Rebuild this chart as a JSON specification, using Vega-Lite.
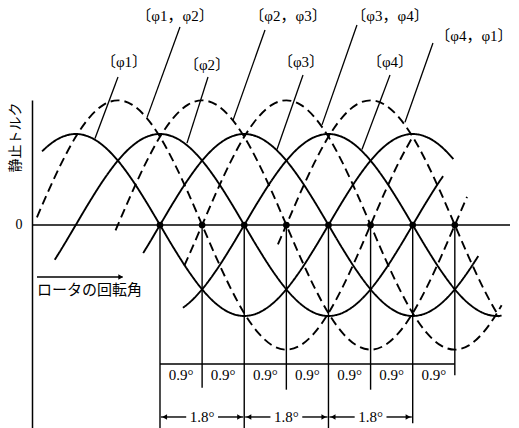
{
  "$schema": "https://vega.github.io/schema/vega-lite/v6.json",
  "autosize": "none",
  "width": 478,
  "height": 328,
  "padding": {"left": 32, "top": 100, "right": 9, "bottom": 0},
  "background": "white",
  "config": {"view": {"stroke": null}},
  "datasets": {
    "curves": [
      {"c": "p1", "k": "s", "t": -2.52, "v": 0.809}, {"c": "p1", "k": "s", "t": -2.4, "v": 0.866}, {"c": "p1", "k": "s", "t": -2.1, "v": 0.966}, {"c": "p1", "k": "s", "t": -1.8, "v": 1},
      {"c": "p1", "k": "s", "t": -1.5, "v": 0.966}, {"c": "p1", "k": "s", "t": -1.2, "v": 0.866}, {"c": "p1", "k": "s", "t": -0.9, "v": 0.707}, {"c": "p1", "k": "s", "t": -0.6, "v": 0.5},
      {"c": "p1", "k": "s", "t": -0.3, "v": 0.259}, {"c": "p1", "k": "s", "t": 0, "v": 0}, {"c": "p1", "k": "s", "t": 0.3, "v": -0.259}, {"c": "p1", "k": "s", "t": 0.6, "v": -0.5},
      {"c": "p1", "k": "s", "t": 0.9, "v": -0.707}, {"c": "p1", "k": "s", "t": 1.2, "v": -0.866}, {"c": "p1", "k": "s", "t": 1.5, "v": -0.966}, {"c": "p1", "k": "s", "t": 1.8, "v": -1},
      {"c": "p1", "k": "s", "t": 2.1, "v": -0.966}, {"c": "p1", "k": "s", "t": 2.4, "v": -0.866}, {"c": "p1", "k": "s", "t": 2.7, "v": -0.707}, {"c": "p1", "k": "s", "t": 3.0, "v": -0.5},
      {"c": "p1", "k": "s", "t": 3.3, "v": -0.259}, {"c": "p1", "k": "s", "t": 3.6, "v": 0}, {"c": "p1", "k": "s", "t": 3.9, "v": 0.259}, {"c": "p1", "k": "s", "t": 4.2, "v": 0.5},
      {"c": "p1", "k": "s", "t": 4.5, "v": 0.707}, {"c": "p1", "k": "s", "t": 4.8, "v": 0.866}, {"c": "p1", "k": "s", "t": 5.1, "v": 0.966}, {"c": "p1", "k": "s", "t": 5.4, "v": 1},
      {"c": "p1", "k": "s", "t": 5.7, "v": 0.966}, {"c": "p1", "k": "s", "t": 6.0, "v": 0.866}, {"c": "p1", "k": "s", "t": 6.27, "v": 0.725},

      {"c": "p2", "k": "s", "t": -2.25, "v": -0.383}, {"c": "p2", "k": "s", "t": -2.1, "v": -0.259}, {"c": "p2", "k": "s", "t": -1.8, "v": 0}, {"c": "p2", "k": "s", "t": -1.5, "v": 0.259},
      {"c": "p2", "k": "s", "t": -1.2, "v": 0.5}, {"c": "p2", "k": "s", "t": -0.9, "v": 0.707}, {"c": "p2", "k": "s", "t": -0.6, "v": 0.866}, {"c": "p2", "k": "s", "t": -0.3, "v": 0.966},
      {"c": "p2", "k": "s", "t": 0, "v": 1}, {"c": "p2", "k": "s", "t": 0.3, "v": 0.966}, {"c": "p2", "k": "s", "t": 0.6, "v": 0.866}, {"c": "p2", "k": "s", "t": 0.9, "v": 0.707},
      {"c": "p2", "k": "s", "t": 1.2, "v": 0.5}, {"c": "p2", "k": "s", "t": 1.5, "v": 0.259}, {"c": "p2", "k": "s", "t": 1.8, "v": 0}, {"c": "p2", "k": "s", "t": 2.1, "v": -0.259},
      {"c": "p2", "k": "s", "t": 2.4, "v": -0.5}, {"c": "p2", "k": "s", "t": 2.7, "v": -0.707}, {"c": "p2", "k": "s", "t": 3.0, "v": -0.866}, {"c": "p2", "k": "s", "t": 3.3, "v": -0.966},
      {"c": "p2", "k": "s", "t": 3.6, "v": -1}, {"c": "p2", "k": "s", "t": 3.9, "v": -0.966}, {"c": "p2", "k": "s", "t": 4.2, "v": -0.866}, {"c": "p2", "k": "s", "t": 4.5, "v": -0.707},
      {"c": "p2", "k": "s", "t": 4.8, "v": -0.5}, {"c": "p2", "k": "s", "t": 5.1, "v": -0.259}, {"c": "p2", "k": "s", "t": 5.4, "v": 0}, {"c": "p2", "k": "s", "t": 5.7, "v": 0.259},
      {"c": "p2", "k": "s", "t": 6.0, "v": 0.5}, {"c": "p2", "k": "s", "t": 6.05, "v": 0.537},

      {"c": "p3", "k": "s", "t": -0.36, "v": -0.309}, {"c": "p3", "k": "s", "t": -0.3, "v": -0.259}, {"c": "p3", "k": "s", "t": 0, "v": 0}, {"c": "p3", "k": "s", "t": 0.3, "v": 0.259},
      {"c": "p3", "k": "s", "t": 0.6, "v": 0.5}, {"c": "p3", "k": "s", "t": 0.9, "v": 0.707}, {"c": "p3", "k": "s", "t": 1.2, "v": 0.866}, {"c": "p3", "k": "s", "t": 1.5, "v": 0.966},
      {"c": "p3", "k": "s", "t": 1.8, "v": 1}, {"c": "p3", "k": "s", "t": 2.1, "v": 0.966}, {"c": "p3", "k": "s", "t": 2.4, "v": 0.866}, {"c": "p3", "k": "s", "t": 2.7, "v": 0.707},
      {"c": "p3", "k": "s", "t": 3.0, "v": 0.5}, {"c": "p3", "k": "s", "t": 3.3, "v": 0.259}, {"c": "p3", "k": "s", "t": 3.6, "v": 0}, {"c": "p3", "k": "s", "t": 3.9, "v": -0.259},
      {"c": "p3", "k": "s", "t": 4.2, "v": -0.5}, {"c": "p3", "k": "s", "t": 4.5, "v": -0.707}, {"c": "p3", "k": "s", "t": 4.8, "v": -0.866}, {"c": "p3", "k": "s", "t": 5.1, "v": -0.966},
      {"c": "p3", "k": "s", "t": 5.4, "v": -1}, {"c": "p3", "k": "s", "t": 5.7, "v": -0.966}, {"c": "p3", "k": "s", "t": 6.0, "v": -0.866}, {"c": "p3", "k": "s", "t": 6.3, "v": -0.707},
      {"c": "p3", "k": "s", "t": 6.6, "v": -0.5}, {"c": "p3", "k": "s", "t": 6.8, "v": -0.342},

      {"c": "p4", "k": "s", "t": 0.49, "v": -0.91}, {"c": "p4", "k": "s", "t": 0.6, "v": -0.866}, {"c": "p4", "k": "s", "t": 0.9, "v": -0.707}, {"c": "p4", "k": "s", "t": 1.2, "v": -0.5},
      {"c": "p4", "k": "s", "t": 1.5, "v": -0.259}, {"c": "p4", "k": "s", "t": 1.8, "v": 0}, {"c": "p4", "k": "s", "t": 2.1, "v": 0.259}, {"c": "p4", "k": "s", "t": 2.4, "v": 0.5},
      {"c": "p4", "k": "s", "t": 2.7, "v": 0.707}, {"c": "p4", "k": "s", "t": 3.0, "v": 0.866}, {"c": "p4", "k": "s", "t": 3.3, "v": 0.966}, {"c": "p4", "k": "s", "t": 3.6, "v": 1},
      {"c": "p4", "k": "s", "t": 3.9, "v": 0.966}, {"c": "p4", "k": "s", "t": 4.2, "v": 0.866}, {"c": "p4", "k": "s", "t": 4.5, "v": 0.707}, {"c": "p4", "k": "s", "t": 4.8, "v": 0.5},
      {"c": "p4", "k": "s", "t": 5.1, "v": 0.259}, {"c": "p4", "k": "s", "t": 5.4, "v": 0}, {"c": "p4", "k": "s", "t": 5.7, "v": -0.259}, {"c": "p4", "k": "s", "t": 6.0, "v": -0.5},
      {"c": "p4", "k": "s", "t": 6.3, "v": -0.707}, {"c": "p4", "k": "s", "t": 6.6, "v": -0.866}, {"c": "p4", "k": "s", "t": 6.9, "v": -0.966}, {"c": "p4", "k": "s", "t": 7.2, "v": -1},
      {"c": "p4", "k": "s", "t": 7.3, "v": -0.996},

      {"c": "d12", "k": "d", "t": -2.63, "v": 0.084}, {"c": "d12", "k": "d", "t": -2.4, "v": 0.355}, {"c": "d12", "k": "d", "t": -2.1, "v": 0.685}, {"c": "d12", "k": "d", "t": -1.8, "v": 0.969},
      {"c": "d12", "k": "d", "t": -1.5, "v": 1.186}, {"c": "d12", "k": "d", "t": -1.2, "v": 1.323}, {"c": "d12", "k": "d", "t": -0.9, "v": 1.37}, {"c": "d12", "k": "d", "t": -0.6, "v": 1.323},
      {"c": "d12", "k": "d", "t": -0.3, "v": 1.186}, {"c": "d12", "k": "d", "t": 0, "v": 0.969}, {"c": "d12", "k": "d", "t": 0.3, "v": 0.685}, {"c": "d12", "k": "d", "t": 0.6, "v": 0.355},
      {"c": "d12", "k": "d", "t": 0.9, "v": 0}, {"c": "d12", "k": "d", "t": 1.2, "v": -0.355}, {"c": "d12", "k": "d", "t": 1.5, "v": -0.685}, {"c": "d12", "k": "d", "t": 1.8, "v": -0.969},
      {"c": "d12", "k": "d", "t": 2.1, "v": -1.186}, {"c": "d12", "k": "d", "t": 2.4, "v": -1.323}, {"c": "d12", "k": "d", "t": 2.7, "v": -1.37}, {"c": "d12", "k": "d", "t": 3.0, "v": -1.323},
      {"c": "d12", "k": "d", "t": 3.3, "v": -1.186}, {"c": "d12", "k": "d", "t": 3.6, "v": -0.969}, {"c": "d12", "k": "d", "t": 3.9, "v": -0.685}, {"c": "d12", "k": "d", "t": 4.2, "v": -0.355},
      {"c": "d12", "k": "d", "t": 4.5, "v": 0}, {"c": "d12", "k": "d", "t": 4.8, "v": 0.355}, {"c": "d12", "k": "d", "t": 5.1, "v": 0.685}, {"c": "d12", "k": "d", "t": 5.4, "v": 0.969},

      {"c": "d23", "k": "d", "t": -0.95, "v": -0.06}, {"c": "d23", "k": "d", "t": -0.9, "v": 0}, {"c": "d23", "k": "d", "t": -0.6, "v": 0.355}, {"c": "d23", "k": "d", "t": -0.3, "v": 0.685},
      {"c": "d23", "k": "d", "t": 0, "v": 0.969}, {"c": "d23", "k": "d", "t": 0.3, "v": 1.186}, {"c": "d23", "k": "d", "t": 0.6, "v": 1.323}, {"c": "d23", "k": "d", "t": 0.9, "v": 1.37},
      {"c": "d23", "k": "d", "t": 1.2, "v": 1.323}, {"c": "d23", "k": "d", "t": 1.5, "v": 1.186}, {"c": "d23", "k": "d", "t": 1.8, "v": 0.969}, {"c": "d23", "k": "d", "t": 2.1, "v": 0.685},
      {"c": "d23", "k": "d", "t": 2.4, "v": 0.355}, {"c": "d23", "k": "d", "t": 2.7, "v": 0}, {"c": "d23", "k": "d", "t": 3.0, "v": -0.355}, {"c": "d23", "k": "d", "t": 3.3, "v": -0.685},
      {"c": "d23", "k": "d", "t": 3.6, "v": -0.969}, {"c": "d23", "k": "d", "t": 3.9, "v": -1.186}, {"c": "d23", "k": "d", "t": 4.2, "v": -1.323}, {"c": "d23", "k": "d", "t": 4.5, "v": -1.37},
      {"c": "d23", "k": "d", "t": 4.8, "v": -1.323}, {"c": "d23", "k": "d", "t": 5.1, "v": -1.186}, {"c": "d23", "k": "d", "t": 5.4, "v": -0.969}, {"c": "d23", "k": "d", "t": 5.7, "v": -0.685},
      {"c": "d23", "k": "d", "t": 6.0, "v": -0.355}, {"c": "d23", "k": "d", "t": 6.3, "v": 0}, {"c": "d23", "k": "d", "t": 6.56, "v": 0.308},

      {"c": "d34", "k": "d", "t": 0.52, "v": -0.446}, {"c": "d34", "k": "d", "t": 0.6, "v": -0.355}, {"c": "d34", "k": "d", "t": 0.9, "v": 0}, {"c": "d34", "k": "d", "t": 1.2, "v": 0.355},
      {"c": "d34", "k": "d", "t": 1.5, "v": 0.685}, {"c": "d34", "k": "d", "t": 1.8, "v": 0.969}, {"c": "d34", "k": "d", "t": 2.1, "v": 1.186}, {"c": "d34", "k": "d", "t": 2.4, "v": 1.323},
      {"c": "d34", "k": "d", "t": 2.7, "v": 1.37}, {"c": "d34", "k": "d", "t": 3.0, "v": 1.323}, {"c": "d34", "k": "d", "t": 3.3, "v": 1.186}, {"c": "d34", "k": "d", "t": 3.6, "v": 0.969},
      {"c": "d34", "k": "d", "t": 3.9, "v": 0.685}, {"c": "d34", "k": "d", "t": 4.2, "v": 0.355}, {"c": "d34", "k": "d", "t": 4.5, "v": 0}, {"c": "d34", "k": "d", "t": 4.8, "v": -0.355},
      {"c": "d34", "k": "d", "t": 5.1, "v": -0.685}, {"c": "d34", "k": "d", "t": 5.4, "v": -0.969}, {"c": "d34", "k": "d", "t": 5.7, "v": -1.186}, {"c": "d34", "k": "d", "t": 6.0, "v": -1.323},
      {"c": "d34", "k": "d", "t": 6.3, "v": -1.37}, {"c": "d34", "k": "d", "t": 6.6, "v": -1.323}, {"c": "d34", "k": "d", "t": 6.9, "v": -1.186}, {"c": "d34", "k": "d", "t": 7.2, "v": -0.969},
      {"c": "d34", "k": "d", "t": 7.3, "v": -0.881},

      {"c": "d41", "k": "d", "t": 2.52, "v": -0.214}, {"c": "d41", "k": "d", "t": 2.7, "v": 0}, {"c": "d41", "k": "d", "t": 3.0, "v": 0.355}, {"c": "d41", "k": "d", "t": 3.3, "v": 0.685},
      {"c": "d41", "k": "d", "t": 3.6, "v": 0.969}, {"c": "d41", "k": "d", "t": 3.9, "v": 1.186}, {"c": "d41", "k": "d", "t": 4.2, "v": 1.323}, {"c": "d41", "k": "d", "t": 4.5, "v": 1.37},
      {"c": "d41", "k": "d", "t": 4.8, "v": 1.323}, {"c": "d41", "k": "d", "t": 5.1, "v": 1.186}, {"c": "d41", "k": "d", "t": 5.4, "v": 0.969}, {"c": "d41", "k": "d", "t": 5.7, "v": 0.685},
      {"c": "d41", "k": "d", "t": 6.0, "v": 0.355}, {"c": "d41", "k": "d", "t": 6.3, "v": 0}, {"c": "d41", "k": "d", "t": 6.6, "v": -0.355}, {"c": "d41", "k": "d", "t": 6.9, "v": -0.685},
      {"c": "d41", "k": "d", "t": 7.2, "v": -0.969}, {"c": "d41", "k": "d", "t": 7.25, "v": -1.01}
    ],
    "dots": [
      {"t": 0, "v": 0}, {"t": 0.9, "v": 0}, {"t": 1.8, "v": 0}, {"t": 2.7, "v": 0},
      {"t": 3.6, "v": 0}, {"t": 4.5, "v": 0}, {"t": 5.4, "v": 0}, {"t": 6.3, "v": 0}
    ],
    "vlines": [
      {"t": 0, "v": 0, "v2": -2.231}, {"t": 0.9, "v": 0, "v2": -1.79}, {"t": 1.8, "v": 0, "v2": -2.231}, {"t": 2.7, "v": 0, "v2": -1.81},
      {"t": 3.6, "v": 0, "v2": -2.231}, {"t": 4.5, "v": 0, "v2": -1.81}, {"t": 5.4, "v": 0, "v2": -2.18}, {"t": 6.3, "v": 0, "v2": -1.65}
    ],
    "hlines": [
      {"t": -2.735, "t2": 7.479, "v": 0},
      {"t": 0, "t2": 6.3, "v": -1.527},
      {"t": 0.02, "t2": 0.56, "v": -2.11}, {"t": 1.24, "t2": 1.78, "v": -2.11},
      {"t": 1.82, "t2": 2.36, "v": -2.11}, {"t": 3.04, "t2": 3.58, "v": -2.11},
      {"t": 3.62, "t2": 4.16, "v": -2.11}, {"t": 4.84, "t2": 5.38, "v": -2.11},
      {"t": -2.628, "t2": -0.8, "v": -0.571}
    ],
    "arrows": [
      {"t": 0.1, "v": -2.11, "s": "L"}, {"t": 1.7, "v": -2.11, "s": "R"},
      {"t": 1.9, "v": -2.11, "s": "L"}, {"t": 3.5, "v": -2.11, "s": "R"},
      {"t": 3.7, "v": -2.11, "s": "L"}, {"t": 5.3, "v": -2.11, "s": "R"},
      {"t": -0.84, "v": -0.571, "s": "R"}
    ],
    "pointers": [
      {"t": -0.897, "v": 1.626, "t2": -1.389, "v2": 0.95},
      {"t": 1.026, "v": 1.626, "t2": 0.577, "v2": 0.9},
      {"t": 0.427, "v": 2.176, "t2": -0.278, "v2": 1.18},
      {"t": 2.244, "v": 2.143, "t2": 1.56, "v2": 1.15},
      {"t": 4.209, "v": 2.198, "t2": 3.462, "v2": 1.1},
      {"t": 5.833, "v": 2.0, "t2": 5.235, "v2": 1.13},
      {"t": 3.056, "v": 1.648, "t2": 2.5, "v2": 0.83},
      {"t": 4.915, "v": 1.648, "t2": 4.316, "v2": 0.83}
    ],
    "phases": [
      {"t": -0.769, "v": 1.791, "label": "〔φ1〕"},
      {"t": 1.004, "v": 1.758, "label": "〔φ2〕"},
      {"t": 3.013, "v": 1.791, "label": "〔φ3〕"},
      {"t": 4.915, "v": 1.791, "label": "〔φ4〕"},
      {"t": 0.321, "v": 2.297, "label": "〔φ1，φ2〕"},
      {"t": 2.735, "v": 2.297, "label": "〔φ2，φ3〕"},
      {"t": 4.915, "v": 2.297, "label": "〔φ3，φ4〕"},
      {"t": 6.709, "v": 2.077, "label": "〔φ4，φ1〕"}
    ],
    "steps": [
      {"t": 0.45, "v": -1.648, "label": "0.9°"}, {"t": 1.35, "v": -1.648, "label": "0.9°"},
      {"t": 2.25, "v": -1.648, "label": "0.9°"}, {"t": 3.15, "v": -1.648, "label": "0.9°"},
      {"t": 4.05, "v": -1.648, "label": "0.9°"}, {"t": 4.95, "v": -1.648, "label": "0.9°"},
      {"t": 5.85, "v": -1.648, "label": "0.9°"},
      {"t": 0.9, "v": -2.11, "label": "1.8°"}, {"t": 2.7, "v": -2.11, "label": "1.8°"},
      {"t": 4.5, "v": -2.11, "label": "1.8°"}
    ],
    "notes": [
      {"t": -2.628, "v": -0.714, "label": "ロータの回転角"}
    ]
  },
  "encoding": {
    "x": {"field": "t", "type": "quantitative", "scale": {"domain": [-2.735, 7.479], "nice": false, "zero": false}, "axis": null},
    "y": {
      "field": "v", "type": "quantitative",
      "scale": {"domain": [-2.231, 1.3736], "nice": false, "zero": false},
      "axis": {
        "values": [0], "grid": false, "ticks": false, "tickSize": 0,
        "domain": true, "domainColor": "black", "domainWidth": 1.5,
        "labelPadding": 10, "labelFont": "Liberation Serif", "labelFontSize": 14, "labelColor": "black",
        "title": "静止トルク", "titleFont": "Noto Sans CJK JP", "titleFontSize": 14, "titleFontWeight": "normal",
        "titleColor": "black", "titleAngle": 270, "titleX": -17, "titleY": 37,
        "titleAlign": "center", "titleBaseline": "middle"
      }
    }
  },
  "layer": [
    {
      "data": {"name": "hlines"},
      "mark": {"type": "rule", "color": "black", "strokeWidth": 1.4},
      "encoding": {"x2": {"field": "t2"}}
    },
    {
      "data": {"name": "vlines"},
      "mark": {"type": "rule", "color": "black", "strokeWidth": 1.4},
      "encoding": {"y2": {"field": "v2"}}
    },
    {
      "data": {"name": "curves"},
      "mark": {"type": "line", "color": "black", "strokeWidth": 1.9, "interpolate": "monotone"},
      "encoding": {
        "detail": {"field": "c"},
        "strokeDash": {"field": "k", "type": "nominal", "scale": {"domain": ["s", "d"], "range": [[1, 0], [9, 5]]}, "legend": null}
      }
    },
    {
      "data": {"name": "pointers"},
      "mark": {"type": "rule", "color": "black", "strokeWidth": 1.3},
      "encoding": {"x2": {"field": "t2"}, "y2": {"field": "v2"}}
    },
    {
      "data": {"name": "dots"},
      "mark": {"type": "circle", "color": "black", "size": 45, "opacity": 1}
    },
    {
      "data": {"name": "arrows"},
      "mark": {"type": "point", "filled": true, "color": "black", "size": 30, "opacity": 1},
      "encoding": {
        "shape": {"field": "s", "type": "nominal", "scale": {"domain": ["L", "R"], "range": ["triangle-left", "triangle-right"]}, "legend": null}
      }
    },
    {
      "data": {"name": "phases"},
      "mark": {"type": "text", "font": "Liberation Serif, Noto Sans CJK JP", "fontSize": 15, "color": "black", "align": "center", "baseline": "middle"},
      "encoding": {"text": {"field": "label"}}
    },
    {
      "data": {"name": "steps"},
      "mark": {"type": "text", "font": "Liberation Serif", "fontSize": 15, "color": "black", "align": "center", "baseline": "middle"},
      "encoding": {"text": {"field": "label"}}
    },
    {
      "data": {"name": "notes"},
      "mark": {"type": "text", "font": "Noto Sans CJK JP", "fontSize": 15, "color": "black", "align": "left", "baseline": "middle"},
      "encoding": {"text": {"field": "label"}}
    }
  ]
}
